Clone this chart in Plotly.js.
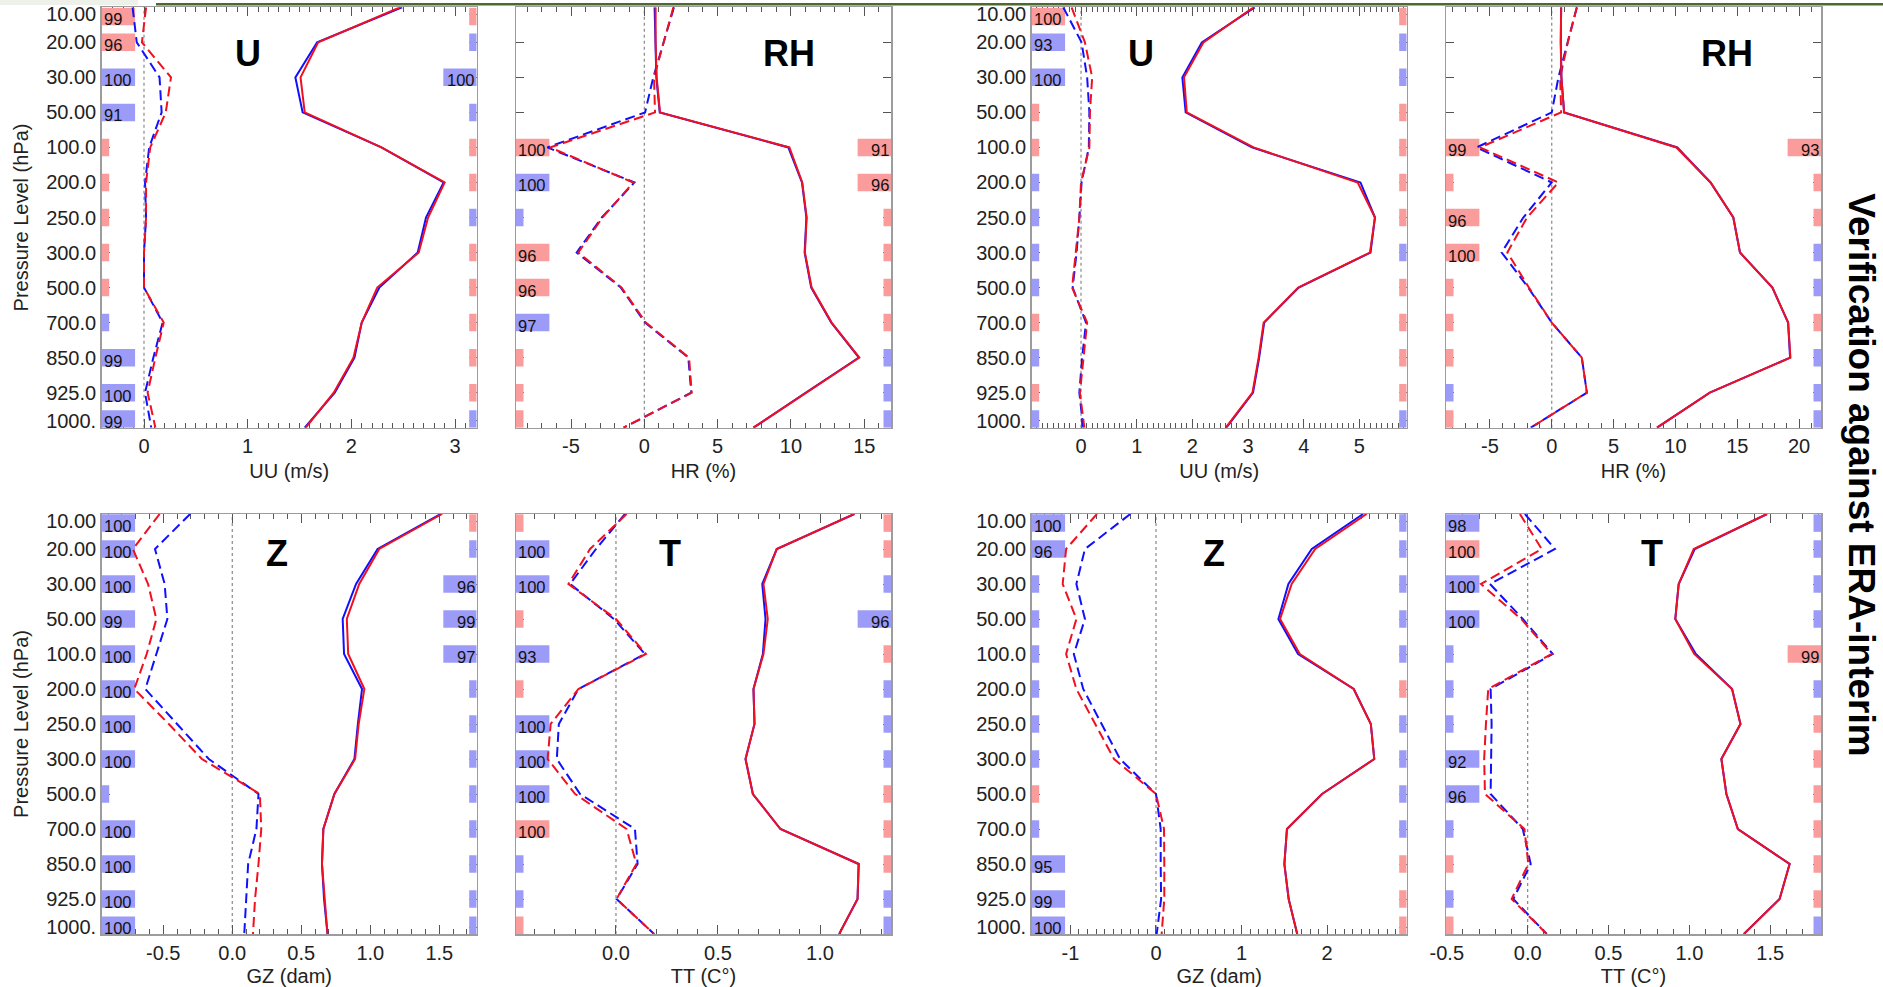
<!DOCTYPE html>
<html>
<head>
<meta charset="utf-8">
<script src="https://cdn.plot.ly/plotly-3.0.1.min.js"></script>
<style>
html,body{margin:0;padding:0;background:#ffffff;}
#chart{width:1883px;height:987px;}
</style>
</head>
<body>
<div id="chart"></div>
<script>
// ---------------- data ----------------
const levelLabels = ["10.00","20.00","30.00","50.00","100.0","200.0","250.0","300.0","500.0","700.0","850.0","925.0","1000."];
const levelIndex = [0,1,2,3,4,5,6,7,8,9,10,11,12];

// Panel A_U (top row, column 1)
const A_U_stdBlue  = [2.49, 1.67, 1.46, 1.53, 2.29, 2.89, 2.72, 2.64, 2.27, 2.10, 2.03, 1.84, 1.55];
const A_U_stdRed   = [2.47, 1.68, 1.51, 1.55, 2.29, 2.90, 2.74, 2.65, 2.25, 2.10, 2.02, 1.83, 1.56];
const A_U_biasBlue = [-0.11, -0.07, 0.15, 0.17, 0.05, 0.01, 0.02, 0.00, 0.00, 0.18, 0.09, 0.01, 0.07];
const A_U_biasRed  = [0.02, -0.02, 0.26, 0.21, 0.06, 0.02, 0.02, 0.00, 0.00, 0.19, 0.11, 0.035, 0.11];
const A_U_leftColor  = ["R","R","B","B","R","R","R","R","R","B","B","B","B"];
const A_U_leftPct    = [99,96,100,91,null,null,null,null,null,null,99,100,99];
const A_U_rightColor = ["R","B","B","B","R","R","B","R","R","R","R","R","B"];
const A_U_rightPct   = [null,null,100,null,null,null,null,null,null,null,null,null,null];
const A_U_tickVals = [0,1,2,3];
const A_U_tickText = ["0","1","2","3"];

// Panel A_RH (top row, column 2)
const A_RH_stdBlue  = [0.70, 0.74, 0.82, 1.05, 9.82, 10.75, 11.05, 10.93, 11.38, 12.75, 14.63, 11.02, 7.45];
const A_RH_stdRed   = [0.77, 0.77, 0.84, 1.07, 9.89, 10.77, 11.07, 10.95, 11.41, 12.77, 14.66, 11.05, 7.43];
const A_RH_biasBlue = [2.02, 1.30, 0.61, 0.05, -6.61, -0.68, -2.90, -4.61, -1.60, 0.05, 3.00, 3.20, -1.40];
const A_RH_biasRed  = [1.98, 1.30, 0.66, 0.73, -6.43, -0.75, -2.85, -4.50, -1.55, 0.10, 3.05, 3.23, -1.43];
const A_RH_leftColor  = ["","","","","R","B","B","R","R","B","R","R","R"];
const A_RH_leftPct    = [null,null,null,null,100,100,null,96,96,97,null,null,null];
const A_RH_rightColor = ["","","","","R","R","R","R","R","R","B","B","B"];
const A_RH_rightPct   = [null,null,null,null,91,96,null,null,null,null,null,null,null];
const A_RH_tickVals = [-5,0,5,10,15];
const A_RH_tickText = ["-5","0","5","10","15"];

// Panel B_U (top row, column 3)
const B_U_stdBlue  = [3.12, 2.17, 1.82, 1.88, 3.07, 5.02, 5.28, 5.20, 3.91, 3.29, 3.20, 3.09, 2.61];
const B_U_stdRed   = [3.10, 2.20, 1.85, 1.90, 3.10, 4.97, 5.28, 5.19, 3.90, 3.28, 3.19, 3.08, 2.60];
const B_U_biasBlue = [-0.32, 0.01, 0.11, 0.15, 0.14, 0.01, -0.03, -0.08, -0.15, 0.09, 0.02, -0.03, 0.04];
const B_U_biasRed  = [-0.17, 0.07, 0.20, 0.16, 0.15, 0.00, -0.03, -0.09, -0.16, 0.11, 0.04, -0.02, 0.06];
const B_U_leftColor  = ["R","B","B","R","R","B","B","B","B","R","B","R","B"];
const B_U_leftPct    = [100,93,100,null,null,null,null,null,null,null,null,null,null];
const B_U_rightColor = ["R","B","B","R","R","R","R","B","R","R","R","R","B"];
const B_U_rightPct   = [null,null,null,null,null,null,null,null,null,null,null,null,null];
const B_U_tickVals = [0,1,2,3,4,5];
const B_U_tickText = ["0","1","2","3","4","5"];

// Panel B_RH (top row, column 4)
const B_RH_stdBlue  = [0.76, 0.73, 0.78, 1.00, 10.15, 12.84, 14.68, 15.22, 17.84, 19.11, 19.27, 12.78, 8.51];
const B_RH_stdRed   = [0.76, 0.73, 0.78, 1.00, 10.08, 12.84, 14.68, 15.22, 17.84, 19.11, 19.30, 12.78, 8.51];
const B_RH_biasBlue = [2.03, 1.30, 0.54, 0.00, -6.08, 0.00, -2.30, -4.05, -1.90, 0.00, 2.43, 2.84, -1.70];
const B_RH_biasRed  = [2.03, 1.30, 0.68, 0.76, -5.81, 0.54, -2.00, -3.59, -1.85, 0.00, 2.43, 2.84, -1.70];
const B_RH_leftColor  = ["","","","","R","R","R","R","R","R","R","B","R"];
const B_RH_leftPct    = [null,null,null,null,99,null,96,100,null,null,null,null,null];
const B_RH_rightColor = ["","","","","R","R","R","B","B","R","B","B","B"];
const B_RH_rightPct   = [null,null,null,null,93,null,null,null,null,null,null,null,null];
const B_RH_tickVals = [-5,0,5,10,15,20];
const B_RH_tickText = ["-5","0","5","10","15","20"];

// Panel A_Z (bottom row, column 1)
const A_Z_stdBlue  = [1.51, 1.053, 0.897, 0.80, 0.81, 0.94, 0.91, 0.885, 0.74, 0.66, 0.65, 0.665, 0.69];
const A_Z_stdRed   = [1.52, 1.065, 0.92, 0.83, 0.84, 0.957, 0.916, 0.89, 0.74, 0.66, 0.65, 0.67, 0.69];
const A_Z_biasBlue = [-0.305, -0.56, -0.49, -0.47, -0.55, -0.63, -0.40, -0.17, 0.19, 0.175, 0.115, 0.10, 0.087];
const A_Z_biasRed  = [-0.526, -0.72, -0.61, -0.55, -0.62, -0.71, -0.46, -0.22, 0.20, 0.21, 0.19, 0.165, 0.15];
const A_Z_leftColor  = ["B","B","B","B","B","B","B","B","B","B","B","B","B"];
const A_Z_leftPct    = [100,100,100,99,100,100,100,100,null,100,100,100,100];
const A_Z_rightColor = ["R","B","B","B","B","B","B","B","B","B","B","B","B"];
const A_Z_rightPct   = [null,null,96,99,97,null,null,null,null,null,null,null,null];
const A_Z_tickVals = [-0.5,0,0.5,1,1.5];
const A_Z_tickText = ["-0.5","0.0","0.5","1.0","1.5"];

// Panel A_T (bottom row, column 2)
const A_T_stdBlue  = [1.168, 0.788, 0.717, 0.733, 0.720, 0.674, 0.679, 0.635, 0.671, 0.806, 1.190, 1.184, 1.094];
const A_T_stdRed   = [1.168, 0.788, 0.723, 0.744, 0.723, 0.674, 0.679, 0.635, 0.671, 0.806, 1.189, 1.184, 1.094];
const A_T_biasBlue = [0.044, -0.098, -0.225, -0.010, 0.142, -0.184, -0.280, -0.290, -0.176, 0.093, 0.106, 0.003, 0.187];
const A_T_biasRed  = [0.052, -0.127, -0.233, 0.000, 0.147, -0.184, -0.320, -0.335, -0.200, 0.052, 0.100, 0.003, 0.187];
const A_T_leftColor  = ["R","B","B","R","B","R","B","B","B","R","B","B","R"];
const A_T_leftPct    = [null,100,100,null,93,null,100,100,100,100,null,null,null];
const A_T_rightColor = ["R","R","B","B","R","B","B","B","R","R","R","B","B"];
const A_T_rightPct   = [null,null,null,96,null,null,null,null,null,null,null,null,null];
const A_T_tickVals = [0,0.5,1];
const A_T_tickText = ["0.0","0.5","1.0"];

// Panel B_Z (bottom row, column 3)
const B_Z_stdBlue  = [2.42, 1.82, 1.547, 1.43, 1.66, 2.31, 2.51, 2.55, 1.94, 1.53, 1.50, 1.55, 1.65];
const B_Z_stdRed   = [2.46, 1.86, 1.585, 1.45, 1.68, 2.31, 2.51, 2.55, 1.94, 1.53, 1.50, 1.55, 1.65];
const B_Z_biasBlue = [-0.30, -0.83, -0.93, -0.83, -0.96, -0.85, -0.635, -0.42, 0.00, 0.055, 0.055, 0.06, 0.008];
const B_Z_biasRed  = [-0.69, -1.05, -1.09, -0.93, -1.05, -0.93, -0.71, -0.49, 0.00, 0.094, 0.097, 0.097, 0.066];
const B_Z_leftColor  = ["B","B","B","B","B","B","B","B","R","B","B","B","B"];
const B_Z_leftPct    = [100,96,null,null,null,null,null,null,null,null,95,99,100];
const B_Z_rightColor = ["B","B","B","B","B","R","B","B","B","B","R","R","R"];
const B_Z_rightPct   = [null,null,null,null,null,null,null,null,null,null,null,null,null];
const B_Z_tickVals = [-1,0,1,2];
const B_Z_tickText = ["-1","0","1","2"];

// Panel B_T (bottom row, column 4)
const B_T_stdBlue  = [1.48, 1.033, 0.934, 0.913, 1.04, 1.264, 1.316, 1.198, 1.229, 1.30, 1.62, 1.558, 1.337];
const B_T_stdRed   = [1.48, 1.027, 0.934, 0.913, 1.03, 1.264, 1.316, 1.198, 1.229, 1.30, 1.62, 1.558, 1.337];
const B_T_biasBlue = [-0.017, 0.169, -0.233, -0.030, 0.155, -0.229, -0.223, -0.227, -0.229, -0.030, 0.019, -0.089, 0.118];
const B_T_biasRed  = [-0.048, 0.087, -0.289, -0.040, 0.149, -0.244, -0.258, -0.269, -0.264, -0.020, 0.004, -0.099, 0.118];
const B_T_leftColor  = ["B","R","B","B","B","B","B","B","B","B","R","B","R"];
const B_T_leftPct    = [98,100,100,100,null,null,null,92,96,null,null,null,null];
const B_T_rightColor = ["B","B","B","B","R","B","R","R","R","R","R","R","B"];
const B_T_rightPct   = [null,null,null,null,99,null,null,null,null,null,null,null,null];
const B_T_tickVals = [-0.5,0,0.5,1,1.5];
const B_T_tickText = ["-0.5","0.0","0.5","1.0","1.5"];

const panelTitles = ["U","RH","U","RH","Z","T","Z","T"];
const xTitles = ["UU (m/s)","HR (%)","UU (m/s)","HR (%)","GZ (dam)","TT (C°)","GZ (dam)","TT (C°)"];
const yTitle = "Pressure Level (hPa)";
const sideTitle = "Verification against ERA-interim";

// ---------------- layout / style ----------------
const W = 1883, H = 987;
const FONT = "Liberation Sans, Arial, Helvetica, sans-serif";
const colPx = [[101.7,476.7],[516,891],[1031.7,1406.7],[1446,1821]];
const rowPx = [[7.3,427.7],[514,934]];
const colDom = colPx.map(c => [c[0]/W, c[1]/W]);
const rowDom = rowPx.map(r => [1 - r[1]/H, 1 - r[0]/H]);
const BAR_RED = "#fa9c9c", BAR_BLUE = "#9c9cf8";
const LINE_RED = "#f01020", LINE_BLUE = "#1010ff";
const AXIS_GRAY = "#9c9c9c", TICK_GRAY = "#555555";

const panels = [
  {col:0,row:0,range:[-0.408,3.209],minor:0.1,titleX:0.391,ylab:true,ytitle:true,
   sb:A_U_stdBlue,sr:A_U_stdRed,bb:A_U_biasBlue,br:A_U_biasRed,lc:A_U_leftColor,lp:A_U_leftPct,rc:A_U_rightColor,rp:A_U_rightPct,tv:A_U_tickVals,tt:A_U_tickText},
  {col:1,row:0,range:[-8.75,16.82],minor:1,titleX:0.729,ylab:false,ytitle:false,
   sb:A_RH_stdBlue,sr:A_RH_stdRed,bb:A_RH_biasBlue,br:A_RH_biasRed,lc:A_RH_leftColor,lp:A_RH_leftPct,rc:A_RH_rightColor,rp:A_RH_rightPct,tv:A_RH_tickVals,tt:A_RH_tickText},
  {col:2,row:0,range:[-0.886,5.85],minor:0.1,titleX:0.291,ylab:true,ytitle:false,
   sb:B_U_stdBlue,sr:B_U_stdRed,bb:B_U_biasBlue,br:B_U_biasRed,lc:B_U_leftColor,lp:B_U_leftPct,rc:B_U_rightColor,rp:B_U_rightPct,tv:B_U_tickVals,tt:B_U_tickText},
  {col:3,row:0,range:[-8.55,21.77],minor:1,titleX:0.749,ylab:false,ytitle:false,
   sb:B_RH_stdBlue,sr:B_RH_stdRed,bb:B_RH_biasBlue,br:B_RH_biasRed,lc:B_RH_leftColor,lp:B_RH_leftPct,rc:B_RH_rightColor,rp:B_RH_rightPct,tv:B_RH_tickVals,tt:B_RH_tickText},
  {col:0,row:1,range:[-0.946,1.771],minor:0.1,titleX:0.467,ylab:true,ytitle:true,
   sb:A_Z_stdBlue,sr:A_Z_stdRed,bb:A_Z_biasBlue,br:A_Z_biasRed,lc:A_Z_leftColor,lp:A_Z_leftPct,rc:A_Z_rightColor,rp:A_Z_rightPct,tv:A_Z_tickVals,tt:A_Z_tickText},
  {col:1,row:1,range:[-0.49,1.348],minor:0.1,titleX:0.411,ylab:false,ytitle:false,
   sb:A_T_stdBlue,sr:A_T_stdRed,bb:A_T_biasBlue,br:A_T_biasRed,lc:A_T_leftColor,lp:A_T_leftPct,rc:A_T_rightColor,rp:A_T_rightPct,tv:A_T_tickVals,tt:A_T_tickText},
  {col:2,row:1,range:[-1.452,2.929],minor:0.1,titleX:0.487,ylab:true,ytitle:false,
   sb:B_Z_stdBlue,sr:B_Z_stdRed,bb:B_Z_biasBlue,br:B_Z_biasRed,lc:B_Z_leftColor,lp:B_Z_leftPct,rc:B_Z_rightColor,rp:B_Z_rightPct,tv:B_Z_tickVals,tt:B_Z_tickText},
  {col:3,row:1,range:[-0.505,1.814],minor:0.1,titleX:0.55,ylab:false,ytitle:false,
   sb:B_T_stdBlue,sr:B_T_stdRed,bb:B_T_biasBlue,br:B_T_biasRed,lc:B_T_leftColor,lp:B_T_leftPct,rc:B_T_rightColor,rp:B_T_rightPct,tv:B_T_tickVals,tt:B_T_tickText}
];

const LONG_FRAC = 0.089, SHORT_FRAC = 0.02, BAR_H = 0.5;
const rowCenter = i => Math.min(Math.max(i, 0.26), 11.75);
const yLabelPos = levelIndex.map(i => i === 0 ? 0.2 : (i === 12 ? 11.8 : i));

const traces = [];
const shapes = [];
const annotations = [];
const layout = {
  width: W, height: H, autosize: false,
  margin: {l:0, r:0, t:0, b:0, pad:0},
  paper_bgcolor: "#ffffff", plot_bgcolor: "#ffffff",
  showlegend: false, barmode: "overlay", hovermode: false,
  font: {family: FONT, size: 20, color: "#222222"}
};

panels.forEach((p, k) => {
  const n = k === 0 ? "" : String(k + 1);
  const xId = "x" + n, yId = "y" + n;
  const span = p.range[1] - p.range[0];

  // significance bars (left = bias, right = std dev)
  ["left","right"].forEach(side => {
    const colors = side === "left" ? p.lc : p.rc;
    const pcts = side === "left" ? p.lp : p.rp;
    const ys = [], xs = [], bases = [], cols = [];
    colors.forEach((c, i) => {
      if (!c) return;
      const len = (pcts[i] != null ? LONG_FRAC : SHORT_FRAC) * span;
      ys.push(rowCenter(i));
      xs.push(len);
      bases.push(side === "left" ? p.range[0] : p.range[1] - len);
      cols.push(c === "R" ? BAR_RED : BAR_BLUE);
      if (pcts[i] != null) {
        annotations.push({
          xref: xId + " domain", yref: yId,
          x: side === "left" ? 0 : 1, y: rowCenter(i),
          xanchor: side === "left" ? "left" : "right", yanchor: "middle",
          xshift: 0, yshift: -3,
          text: String(pcts[i]), showarrow: false,
          font: {family: FONT, size: 16.5, color: "#111111"}
        });
      }
    });
    traces.push({type:"bar", orientation:"h", x: xs, y: ys, base: bases, width: BAR_H,
      marker:{color: cols, line:{width:0}}, xaxis: xId, yaxis: yId, hoverinfo:"skip"});
  });

  // bias (dashed) and std dev (solid) profiles
  const lineSpecs = [
    [p.bb, LINE_BLUE, "10px,5px"],
    [p.br, LINE_RED, "10px,5px"],
    [p.sb, LINE_BLUE, "solid"],
    [p.sr, LINE_RED, "solid"]
  ];
  lineSpecs.forEach(([vals, color, dash]) => {
    traces.push({type:"scatter", mode:"lines", x: vals, y: levelIndex,
      line:{color: color, width: 2, dash: dash}, xaxis: xId, yaxis: yId,
      hoverinfo:"skip", cliponaxis: true});
  });

  // zero reference line
  shapes.push({type:"line", xref: xId, yref: yId + " domain", x0:0, x1:0, y0:0, y1:1,
    line:{color:"#888888", width:1.2, dash:"dot"}, layer:"below"});

  // panel title
  annotations.push({xref: xId + " domain", yref: yId + " domain",
    x: p.titleX, y: p.row === 0 ? 0.8905 : 0.907, xanchor:"center", yanchor:"middle",
    text: panelTitles[k], showarrow:false,
    font:{family: FONT, size: 36, color:"#000000", weight:"bold"}});

  layout["xaxis" + n] = {
    domain: colDom[p.col], range: p.range, anchor: yId, fixedrange: true,
    tickmode: "array", tickvals: p.tv, ticktext: p.tt,
    ticks: "inside", ticklen: 9, tickwidth: 1, tickcolor: TICK_GRAY,
    minor: {dtick: p.minor, tick0: 0, ticks: "inside", ticklen: 5, tickwidth: 1, tickcolor: TICK_GRAY, showgrid: false},
    mirror: "ticks", showline: true, linecolor: AXIS_GRAY, linewidth: 1.5,
    showgrid: false, zeroline: false, layer: "below traces",
    tickfont: {family: FONT, size: 20, color: "#222222"},
    title: {text: xTitles[k], font: {family: FONT, size: 20, color: "#222222"}, standoff: 8}
  };
  layout["yaxis" + n] = {
    domain: rowDom[p.row], range: [12, 0], anchor: xId, fixedrange: true,
    tickmode: "array", tickvals: p.ylab ? yLabelPos : levelIndex,
    ticktext: p.ylab ? levelLabels : levelIndex.map(() => ""),
    showticklabels: p.ylab,
    ticks: "inside", ticklen: 8, tickwidth: 1, tickcolor: TICK_GRAY,
    mirror: "ticks", showline: true, linecolor: AXIS_GRAY, linewidth: 1.5,
    showgrid: false, zeroline: false, layer: "below traces",
    tickfont: {family: FONT, size: 20, color: "#222222"},
    title: p.ytitle ? {text: yTitle, font: {family: FONT, size: 20, color: "#222222"}, standoff: 12} : {text: ""}
  };
});

// side title
annotations.push({xref:"paper", yref:"paper", x: 1861.7 / W, y: 1 - 475 / H,
  xanchor:"center", yanchor:"middle", textangle: 90, text: sideTitle, showarrow:false,
  font:{family: FONT, size: 37, color:"#000000", weight:"bold"}});

// slide decorations at the top edge
shapes.push({type:"rect", xref:"paper", yref:"paper", x0:0, x1:138/W, y0:1-5/H, y1:1,
  fillcolor:"#eef0ea", line:{width:0}, layer:"below"});
shapes.push({type:"rect", xref:"paper", yref:"paper", x0:156/W, x1:1, y0:1-5.5/H, y1:1-3/H,
  fillcolor:"#4b6a2c", line:{width:0}, layer:"above"});

layout.shapes = shapes;
layout.annotations = annotations;

Plotly.newPlot("chart", traces, layout, {staticPlot: true, displayModeBar: false});
</script>
</body>
</html>
